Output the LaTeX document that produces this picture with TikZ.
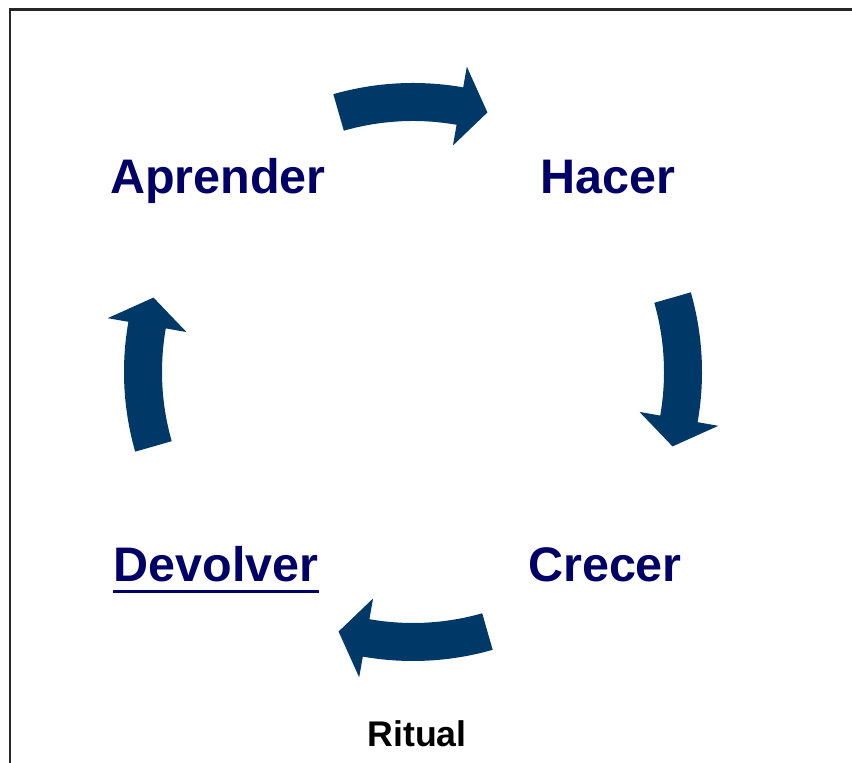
\documentclass[tikz,border=0pt]{standalone}
\usepackage{fontspec}
\setmainfont{Liberation Sans}
\definecolor{arrowblue}{RGB}{0,56,104}
\definecolor{labelnavy}{RGB}{0,0,102}

\begin{document}
\begin{tikzpicture}[
    x=0.02cm, y=0.02cm,
    stagelabel/.style={text=labelnavy, font=\fontsize{27.6}{33}\selectfont\bfseries, inner sep=0pt, anchor=base},
    notelabel/.style={text=black, font=\fontsize{20.3}{24}\selectfont\bfseries, inner sep=0pt, anchor=base},
    cyclearrow/.style={fill=arrowblue}
]
    \useasboundingbox (0,0) rectangle (852,763);
    \draw[line width=0.06cm, black!85] (10,-20) -- (10,753) -- (870,753);

    \coordinate (c) at (413,391);

    \node[stagelabel] (aprender) at (218,569) {Aprender};
    \node[stagelabel] (hacer) at (608,569) {Hacer};
    \node[stagelabel] (crecer) at (605,181) {Crecer};
    \node[stagelabel] (devolver) at (216,181) {Devolver};
    \node[notelabel] (ritual) at (417,16) {Ritual};

    \draw[labelnavy, line width=0.07cm] ([yshift=-0.19cm]devolver.base west) -- ([yshift=-0.19cm]devolver.base east);

    % curved block arrows, clockwise round the centre
    \begin{scope}[shift={(c)}]
    \foreach \a in {90,0,-90,-180} {
        \fill[cyclearrow] (\a+16:289) arc[start angle=\a+16, end angle=\a-10, radius=289]
            -- (\a-10:310) -- (\a-16:270) -- (\a-10:230) -- (\a-10:251)
            arc[start angle=\a-10, end angle=\a+16, radius=251] -- cycle;
    }
    \end{scope}
\end{tikzpicture}
\end{document}
